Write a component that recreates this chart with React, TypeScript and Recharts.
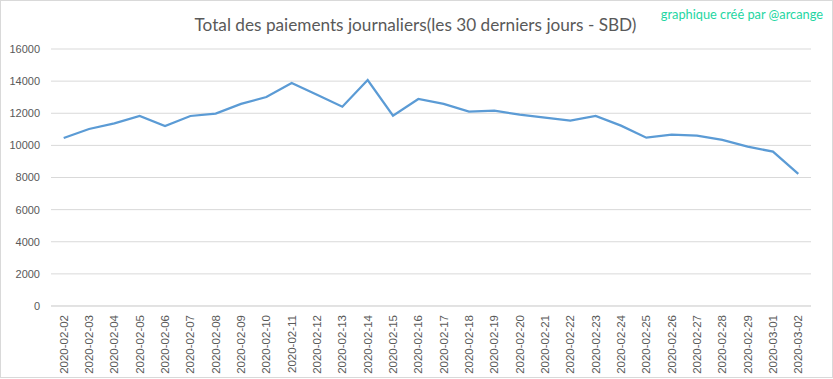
import React from 'react';
import { LineChart, Line, XAxis, YAxis, CartesianGrid } from 'recharts';

const dates = [
  '2020-02-02', '2020-02-03', '2020-02-04', '2020-02-05', '2020-02-06', '2020-02-07',
  '2020-02-08', '2020-02-09', '2020-02-10', '2020-02-11', '2020-02-12', '2020-02-13',
  '2020-02-14', '2020-02-15', '2020-02-16', '2020-02-17', '2020-02-18', '2020-02-19',
  '2020-02-20', '2020-02-21', '2020-02-22', '2020-02-23', '2020-02-24', '2020-02-25',
  '2020-02-26', '2020-02-27', '2020-02-28', '2020-02-29', '2020-03-01', '2020-03-02',
];

const payments = [
  10460, 11020, 11375, 11830, 11210, 11830, 11975, 12580, 13010, 13885,
  13150, 12410, 14070, 11850, 12890, 12580, 12100, 12160, 11910, 11725,
  11540, 11830, 11230, 10480, 10665, 10600, 10340, 9920, 9610, 8220,
];

const yTicks = [0, 2000, 4000, 6000, 8000, 10000, 12000, 14000, 16000];

const title = 'Total des paiements journaliers(les 30 derniers jours - SBD)';
const watermark = 'graphique créé par @arcange';

const data = dates.map((d, i) => ({ date: d, value: payments[i] }));

const XTick = (props: any) => {
  const { x, y, payload } = props;
  return (
    <g transform={`translate(${x},${y + 9})`}>
      <text
        transform="rotate(-90)"
        textAnchor="end"
        dy="0.35em"
        fill="#595959"
        fontSize={11.5}
        fontFamily="'Liberation Sans', Arial, sans-serif"
      >
        {payload.value}
      </text>
    </g>
  );
};

export default function App() {
  return (
    <div style={{ position: 'absolute', left: 0, top: 0, width: 833, height: 379, background: '#fff' }}>
      <LineChart
        width={833}
        height={379}
        data={data}
        margin={{ top: 49, right: 22, left: 0, bottom: 0 }}
      >
        <CartesianGrid vertical={false} stroke="#d9d9d9" strokeWidth={1} />
        <XAxis
          dataKey="date"
          height={73}
          interval={0}
          tickLine={false}
          tickSize={0}
          tickMargin={0}
          axisLine={{ stroke: '#d9d9d9' }}
          padding={{ left: 12.7, right: 12.7 }}
          tick={<XTick />}
        />
        <YAxis
          width={51}
          domain={[0, 16000]}
          ticks={yTicks}
          interval={0}
          tickLine={false}
          axisLine={false}
          tickSize={0}
          tickMargin={11}
          tick={{ fill: '#595959', fontSize: 11, fontFamily: "'Liberation Sans', Arial, sans-serif" }}
        />
        <Line
          type="linear"
          dataKey="value"
          stroke="#5b9bd5"
          strokeWidth={2.25}
          dot={false}
          isAnimationActive={false}
        />
      </LineChart>
      <div
        style={{
          position: 'absolute', left: 0, top: 12, width: 833, textAlign: 'center',
          fontFamily: 'Lato, sans-serif', fontSize: 17.2, color: '#595959', lineHeight: '26px',
          paddingRight: 2, boxSizing: 'border-box',
        }}
      >
        {title}
      </div>
      <div
        style={{
          position: 'absolute', right: 10, top: 6, fontFamily: 'Lato, sans-serif', fontSize: 12.8,
          color: '#1ed6a2', lineHeight: '16px',
        }}
      >
        {watermark}
      </div>
      <div
        style={{
          position: 'absolute', left: 0, top: 0, width: 833, height: 378,
          border: '1px solid #d9d9d9', boxSizing: 'border-box', pointerEvents: 'none',
        }}
      />
    </div>
  );
}
